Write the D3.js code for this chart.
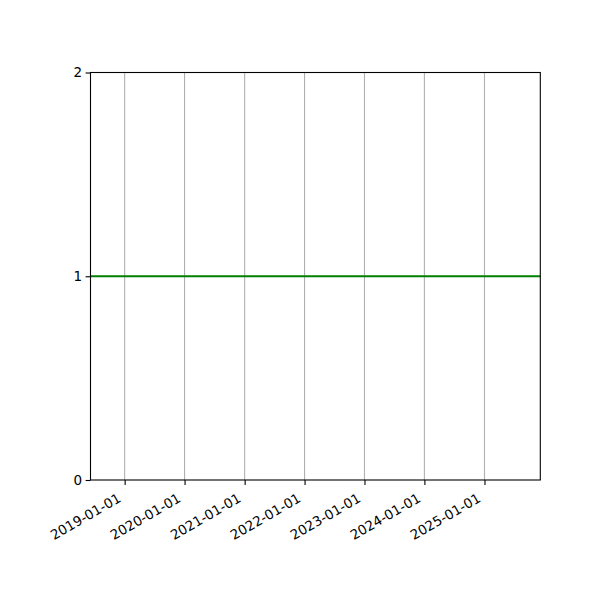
<!DOCTYPE html>
<html>
<head>
<meta charset="utf-8">
<script src="https://cdn.jsdelivr.net/npm/d3@7"></script>
<style>
  body { margin: 0; background: #fff; }
</style>
</head>
<body>
<div id="chart"></div>
<script>
// data
const xDomain = ["2018-06-07", "2025-12-07"];
const tickDates = ["2019-01-01", "2020-01-01", "2021-01-01", "2022-01-01", "2023-01-01", "2024-01-01", "2025-01-01"];
const yTicks = [0, 1, 2];
const lineDates = ["2018-06-07", "2025-12-07"];
const lineValues = [1, 1];

const width = 600, height = 600;
const margin = {top: 72.5, right: 60, bottom: 120, left: 90.5};
const parse = d3.utcParse("%Y-%m-%d");

const svg = d3.select("#chart").append("svg")
  .attr("width", width)
  .attr("height", height);

const x = d3.scaleUtc()
  .domain(xDomain.map(parse))
  .range([margin.left, width - margin.right + 0.3]);

const y = d3.scaleLinear()
  .domain([0, 2])
  .range([height - margin.bottom, margin.top]);

// vertical grid
svg.append("g")
  .selectAll("line")
  .data(tickDates)
  .join("line")
    .attr("x1", d => x(parse(d)))
    .attr("x2", d => x(parse(d)))
    .attr("y1", y(0))
    .attr("y2", y(2))
    .attr("stroke", "#b0b0b0")
    .attr("stroke-width", 1.1);

// the line
const line = d3.line()
  .x((d, i) => x(parse(lineDates[i])))
  .y(d => y(d));

svg.append("path")
  .datum(lineValues)
  .attr("fill", "none")
  .attr("stroke", "green")
  .attr("stroke-width", 2)
  .attr("d", line);

// x axis
const xAxis = svg.append("g")
  .attr("transform", `translate(0,${y(0)})`)
  .call(d3.axisBottom(x)
    .tickValues(tickDates.map(parse))
    .tickFormat(d3.utcFormat("%Y-%m-%d"))
    .tickSize(4.9)
    .tickSizeOuter(0))
  .attr("font-family", "DejaVu Sans")
  .attr("font-size", 13.5);
xAxis.select(".domain").remove();
xAxis.selectAll(".tick line").attr("stroke", "#000").attr("stroke-width", 1.1);
xAxis.selectAll(".tick text")
  .attr("fill", "#000")
  .attr("text-anchor", "end")
  .attr("dy", null)
  .attr("y", null)
  .attr("transform", "translate(-8.5,12) rotate(-30)")
  .attr("dominant-baseline", "hanging");

// y axis
const yAxis = svg.append("g")
  .attr("transform", `translate(${x.range()[0]},0)`)
  .call(d3.axisLeft(y)
    .tickValues(yTicks)
    .tickFormat(d3.format("d"))
    .tickSize(4.9)
    .tickSizeOuter(0))
  .attr("font-family", "DejaVu Sans")
  .attr("font-size", 13.5);
yAxis.select(".domain").remove();
yAxis.selectAll(".tick line").attr("stroke", "#000").attr("stroke-width", 1.1);
yAxis.selectAll(".tick text")
  .attr("fill", "#000")
  .attr("x", -8.5);

// frame
svg.append("rect")
  .attr("x", x.range()[0])
  .attr("y", y(2))
  .attr("width", x.range()[1] - x.range()[0])
  .attr("height", y(0) - y(2))
  .attr("fill", "none")
  .attr("stroke", "#000")
  .attr("stroke-width", 1.1);
</script>
</body>
</html>
